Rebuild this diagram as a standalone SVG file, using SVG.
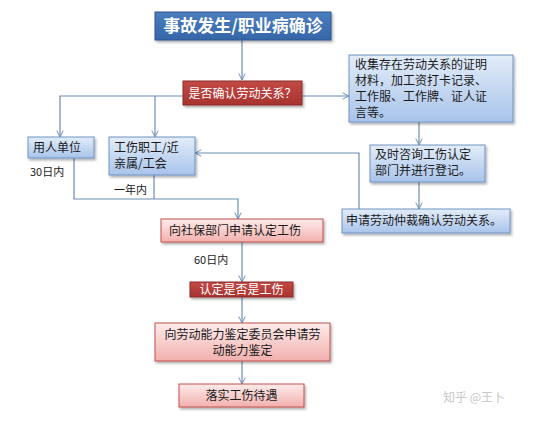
<svg xmlns="http://www.w3.org/2000/svg" width="546" height="424" viewBox="0 0 546 424">
<defs>
<linearGradient id="gb" x1="0" y1="0" x2="0" y2="1"><stop offset="0" stop-color="#e3edf9"/><stop offset="1" stop-color="#a8c3ea"/></linearGradient>
<linearGradient id="gp" x1="0" y1="0" x2="0" y2="1"><stop offset="0" stop-color="#fdeceb"/><stop offset="1" stop-color="#f2b0ae"/></linearGradient>
<linearGradient id="gt" x1="0" y1="0" x2="0" y2="1"><stop offset="0" stop-color="#4a7ec0"/><stop offset="1" stop-color="#3566a8"/></linearGradient>
<linearGradient id="gr" x1="0" y1="0" x2="0" y2="1"><stop offset="0" stop-color="#c24a46"/><stop offset="1" stop-color="#a8332f"/></linearGradient>
<marker id="ah" viewBox="0 0 10 10" refX="9" refY="5" markerWidth="8" markerHeight="8" orient="auto" markerUnits="userSpaceOnUse"><path d="M1,1 L9,5 L1,9" fill="none" stroke="#6b8db3" stroke-width="1.2"/></marker>
<filter id="sh" x="-10%" y="-20%" width="130%" height="160%"><feDropShadow dx="1.5" dy="2" stdDeviation="1.2" flood-color="#000" flood-opacity="0.3"/></filter>
</defs>
<style>
text{font-family:"Noto Sans CJK SC","Liberation Sans",sans-serif;font-size:12px;fill:#1a1a1a}
.b{fill:url(#gb);stroke:#6f93c4;stroke-width:1;filter:url(#sh)}
.p{fill:url(#gp);stroke:#c0504d;stroke-width:1;filter:url(#sh)}
.r{fill:url(#gr);stroke:#8c2b28;stroke-width:1;filter:url(#sh)}
.t{fill:url(#gt);stroke:#2c5590;stroke-width:1;filter:url(#sh)}
.w{fill:#fff}
.c{text-anchor:middle}
#conn path{fill:none;stroke:#6b8db3;stroke-width:1.2}
</style>
<rect width="546" height="424" fill="#fff"/>
<g id="conn">
<path d="M242,40 V80" marker-end="url(#ah)"/>
<path d="M183,96 H60 V137" marker-end="url(#ah)"/>
<path d="M155,96 V137" marker-end="url(#ah)"/>
<path d="M302,96 H349" marker-end="url(#ah)"/>
<path d="M419,122 V145" marker-end="url(#ah)"/>
<path d="M419,182 V209" marker-end="url(#ah)"/>
<path d="M359,209 V153 H195" marker-end="url(#ah)"/>
<path d="M74,158 V199 H238 V219" marker-end="url(#ah)"/>
<path d="M154,175 V199"/>
<path d="M242,242 V282" marker-end="url(#ah)"/>
<path d="M242,297 V323" marker-end="url(#ah)"/>
<path d="M242,361 V384" marker-end="url(#ah)"/>
</g>
<g id="n-title"><rect class="t" x="155" y="12" width="176" height="28"/><text class="w c" x="243" y="32" style="font-size:17px;font-weight:bold">事故发生/职业病确诊</text></g>
<g id="n-confirm"><rect class="r" x="183" y="81" width="119" height="24"/><text class="w c" x="242.5" y="97.5">是否确认劳动关系？</text></g>
<g id="n-collect"><rect class="b" x="349" y="55" width="164" height="67"/><text x="355" y="69">收集存在劳动关系的证明</text><text x="355" y="85">材料，加工资打卡记录、</text><text x="355" y="101">工作服、工作牌、证人证</text><text x="355" y="117">言等。</text></g>
<g id="n-consult"><rect class="b" x="370" y="145" width="115" height="37"/><text x="375" y="159">及时咨询工伤认定</text><text x="375" y="175">部门并进行登记。</text></g>
<g id="n-arb"><rect class="b" x="342" y="209" width="168" height="24"/><text x="346" y="225">申请劳动仲裁确认劳动关系。</text></g>
<g id="n-employer"><rect class="b" x="28" y="137" width="66" height="21"/><text x="33" y="152">用人单位</text></g>
<g id="n-worker"><rect class="b" x="109" y="137" width="86" height="38"/><text x="114" y="152">工伤职工/近</text><text x="114" y="168">亲属/工会</text></g>
<g id="l-30"><text x="30" y="176" style="font-size:11px">30日内</text></g>
<g id="l-1y"><text x="114" y="194" style="font-size:11px">一年内</text></g>
<g id="n-apply"><rect class="p" x="161" y="219" width="162" height="23"/><text x="169" y="235">向社保部门申请认定工伤</text></g>
<g id="l-60"><text x="194" y="264" style="font-size:11px">60日内</text></g>
<g id="n-decide"><rect class="r" x="190" y="282" width="103" height="15"/><text class="w c" x="241.5" y="294">认定是否是工伤</text></g>
<g id="n-ability"><rect class="p" x="155" y="323" width="175" height="38"/><text class="c" x="242.5" y="339">向劳动能力鉴定委员会申请劳</text><text class="c" x="242.5" y="355">动能力鉴定</text></g>
<g id="n-treat"><rect class="p" x="179" y="384" width="125" height="23"/><text class="c" x="241.5" y="400">落实工伤待遇</text></g>
<text x="443" y="402" style="font-size:12px;fill:#c8c8c8">知乎 @王卜</text>
</svg>
